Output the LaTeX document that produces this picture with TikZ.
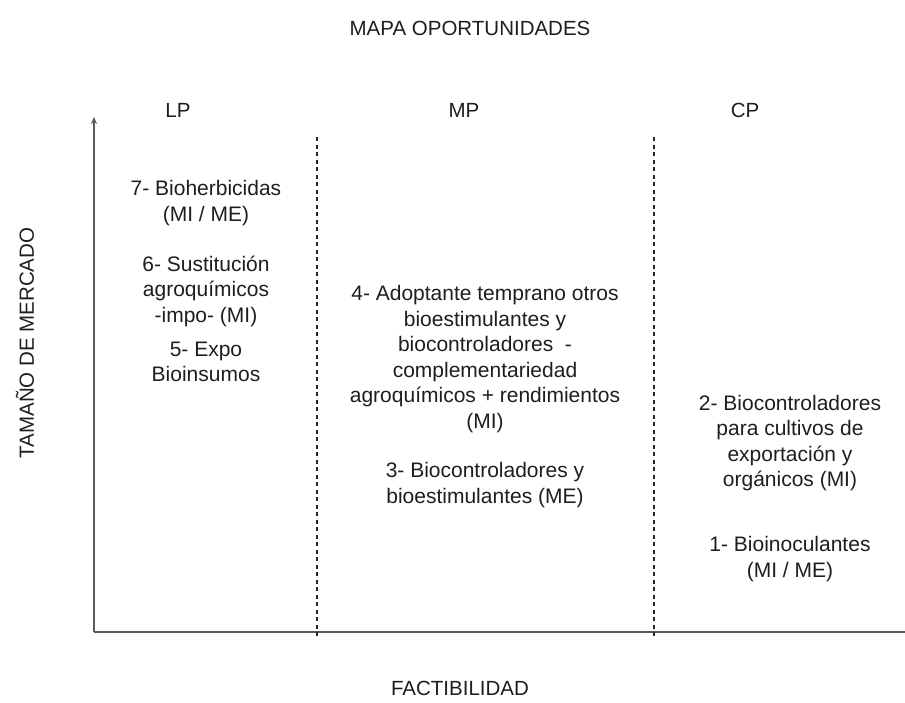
\documentclass[tikz,border=0pt]{standalone}
\usepackage{fontspec}
\setmainfont{Liberation Sans}
\usetikzlibrary{arrows.meta}
\definecolor{axisgray}{HTML}{5A5A5A}
\definecolor{txt}{HTML}{1E1E1E}
\begin{document}
\begin{tikzpicture}[x=1pt,y=-1pt,
  lbl/.style={text=txt,inner sep=0pt,align=center,font=\fontsize{21}{25.5}\selectfont},
  hdr/.style={text=txt,inner sep=0pt,font=\fontsize{20.5}{24}\selectfont},
  axisline/.style={draw=axisgray,line width=1.8pt},
  divider/.style={draw=black!85,line width=1.3pt,dash pattern=on 4pt off 3.5pt}]
\useasboundingbox (0,0) rectangle (905,702);
% headings
\node[hdr] (title) at (470,28) {MAPA OPORTUNIDADES};
\node[hdr] (lp) at (178,110) {LP};
\node[hdr] (mp) at (464,110) {MP};
\node[hdr] (cp) at (745,110) {CP};
\node[hdr,rotate=90] (ylabel) at (25,343) {TAMAÑO DE MERCADO};
\node[hdr] (xlabel) at (460,688) {FACTIBILIDAD};
% axes
\coordinate (O) at (94,632);
\coordinate (ytip) at (94,117);
\coordinate (xend) at (905,632);
\draw[axisline,-{Stealth[length=7pt,width=6pt]}] (O) -- (ytip);
\draw[axisline] (O) -- (xend);
% dividers
\coordinate (d1top) at (317,137);
\coordinate (d1bot) at (317,636);
\coordinate (d2top) at (654,137);
\coordinate (d2bot) at (654,638);
\draw[divider] (d1top) -- (d1bot);
\draw[divider] (d2top) -- (d2bot);
% LP column
\node[lbl] (t7) at (206,203) {7- Bioherbicidas\\(MI / ME)};
\node[lbl] (t6) at (206,291) {6- Sustitución\\agroquímicos\\-impo- (MI)};
\node[lbl] (t5) at (206,362) {5- Expo\\Bioinsumos};
% MP column
\node[lbl] (t4) at (485,359) {4- Adoptante temprano otros\\bioestimulantes y\\biocontroladores\ \ -\\complementariedad\\agroquímicos + rendimientos\\(MI)};
\node[lbl] (t3) at (485,485) {3- Biocontroladores y\\bioestimulantes (ME)};
% CP column
\node[lbl] (t2) at (790,443) {2- Biocontroladores\\para cultivos de\\exportación y\\orgánicos (MI)};
\node[lbl] (t1) at (790,559) {1- Bioinoculantes\\(MI / ME)};
\end{tikzpicture}
\end{document}
